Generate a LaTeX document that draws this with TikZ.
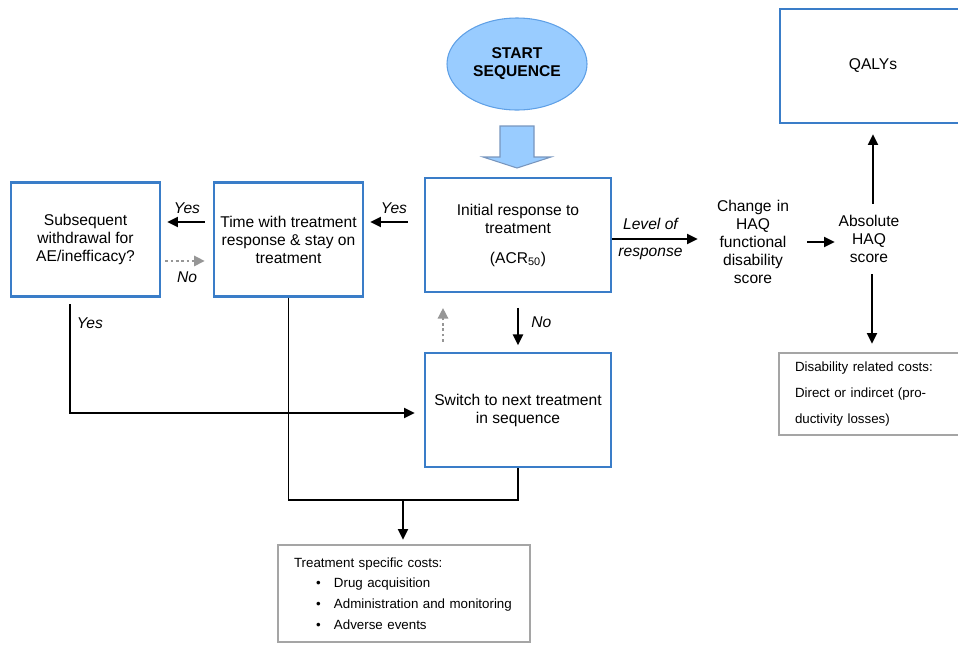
\documentclass[tikz,border=0pt]{standalone}
\usepackage{fontspec}
\setmainfont{Liberation Sans}
\usetikzlibrary{arrows.meta,shapes.geometric,positioning}
\definecolor{boxblue}{RGB}{58,125,200}
\definecolor{startfill}{RGB}{153,204,255}
\definecolor{startedge}{RGB}{95,160,230}
\definecolor{arrowedge}{RGB}{120,150,190}
\definecolor{costgray}{RGB}{165,165,165}
\definecolor{dotgray}{RGB}{150,150,150}
\tikzset{
  stepbox/.style={draw=boxblue, line width=1.8pt, align=center, minimum width=139.5pt, minimum height=85.5pt, inner sep=2pt},
  startnode/.style={ellipse, draw=startedge, fill=startfill, line width=0.8pt, align=center, minimum width=105pt, minimum height=69pt, inner sep=0pt},
  textnode/.style={align=center, inner sep=0pt},
  costbox/.style={draw=costgray, line width=1.8pt, align=left, inner xsep=12pt, inner ysep=2pt, font=\fontsize{10}{15.5}\selectfont},
  arr/.style={-{Triangle[length=8pt,width=7.5pt]}, line width=1.5pt},
  back/.style={-{Triangle[length=8pt,width=7.5pt]}, line width=2.2pt, dotgray, dash pattern=on 2pt off 2pt},
  thinline/.style={line width=0.9pt},
  lbl/.style={text=black, font=\fontsize{11.7}{13.5}\selectfont\itshape}
}
\newcommand{\costitem}[1]{\hspace*{16.5pt}\makebox[13.5pt][l]{\textbullet}#1}
\begin{document}
\begin{tikzpicture}[x=0.75pt, y=-0.75pt, font=\fontsize{11.7}{13.5}\selectfont]
  % page frame
  \useasboundingbox (0,0) rectangle (958,644);
  \clip (0,0) rectangle (958,644);

  % start of the sequence
  \node[startnode] (start) at (517,64) {\textbf{START}\\\textbf{SEQUENCE}};
  \draw[fill=startfill, draw=arrowedge, line width=0.8pt] (500,126) -- (534,126) -- (534,157) -- (551,157)
    -- (517,168) -- (483,157) -- (500,157) -- cycle;

  % treatment boxes
  \node[stepbox] (init) at (518,235) {Initial response to\\treatment\\[9pt](ACR\textsubscript{50})};
  \node[stepbox, minimum width=111.75pt] (stay) at (288.5,239.5) {Time with treatment\\response \& stay on\\treatment};
  \node[stepbox, minimum width=111.75pt] (withdraw) at (85.5,239.5) {Subsequent\\withdrawal for\\AE/inefficacy?};
  \node[stepbox] (switch) at (518,410) {Switch to next treatment\\in sequence};

  % outcomes
  \node[stepbox] (qaly) at (873,66) {QALYs};
  \node[textnode, text width=60pt] (change) at (753,242) {Change in\\HAQ\\functional\\disability\\score};
  \node[textnode, text width=48pt, minimum height=52.5pt] (absolute) at (869,239) {Absolute\\HAQ\\score};

  % costs
  \node[costbox, text width=165pt, minimum height=72.75pt] (txcost) at (404,593.5)
    {Treatment specific costs:\\\costitem{Drug acquisition}\\\costitem{Administration and monitoring}\\\costitem{Adverse events}};
  \node[costbox, text width=115.5pt, minimum height=61.5pt, font=\fontsize{10}{19.5}\selectfont] (discost) at (872,394)
    {Disability related costs:\\Direct or indircet (pro-\\ductivity losses)};

  % response branch
  \coordinate (row) at ([yshift=9.75pt]init.west);
  \draw[arr, shorten <=12pt, shorten >=4.5pt] (row) -- (row -| stay.east) node[midway, above=2pt, lbl] {Yes};
  \draw[arr, shorten <=6pt, shorten >=4.5pt] (row -| stay.west) -- (row -| withdraw.east) node[midway, above=2pt, lbl] {Yes};
  \coordinate (norow) at ([yshift=-16.1pt]withdraw.east);
  \draw[back, shorten <=3pt, shorten >=6pt] (norow) -- (norow -| stay.west) node[midway, below=4pt, lbl] {No};
  \draw[arr, shorten <=5pt, shorten >=6.75pt] ([xshift=-11.6pt]withdraw.south) |- ([yshift=-2.25pt]switch.west)
    node[pos=0, anchor=west, xshift=1pt, yshift=-19.5pt, lbl] {Yes};

  % no response branch
  \draw[arr, shorten <=11pt, shorten >=5pt] (init.south) -- (switch.north) node[midway, right=6pt, lbl] {No};
  \draw[back, shorten <=7.5pt, shorten >=11pt] ([xshift=-56.25pt]switch.north) -- ([xshift=-56.25pt]init.south);

  % treatment costs
  \coordinate (merge) at (403,500);
  \draw[thinline] (stay.south) |- (merge) -| (switch.south);
  \draw[arr, shorten >=3pt] (merge) -- (merge |- txcost.north);

  % HAQ branch
  \coordinate (lvl) at ([yshift=-3pt]init.east);
  \draw[arr, shorten >=11.25pt] (lvl) -- (lvl -| change.west)
    node[midway, above=3pt, xshift=-9pt, lbl] {Level of} node[midway, below=3pt, xshift=-9pt, lbl] {response};
  \draw[arr, shorten <=10.5pt, shorten >=1.5pt] (change.east) -- (change.east -| absolute.west);
  \draw[arr, shorten >=7.5pt] (qaly.south |- absolute.north) -- (qaly.south);
  \draw[arr, shorten >=6pt] (discost.north |- absolute.south) -- (discost.north);
\end{tikzpicture}
\end{document}
